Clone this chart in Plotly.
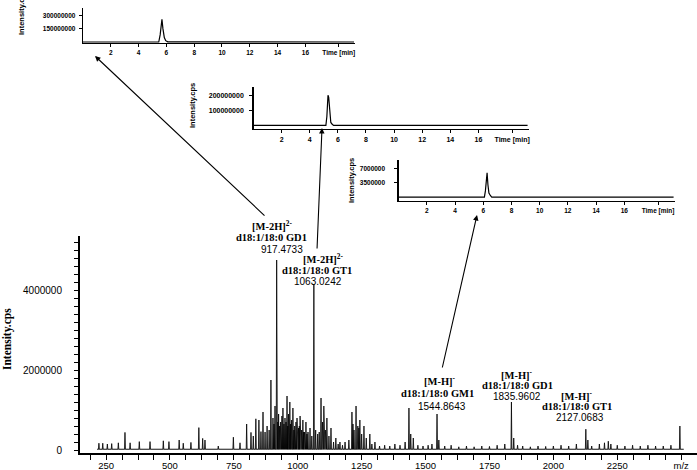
import plotly.graph_objects as go

W, H = 697, 470

# ---------------- DATA ----------------
# Main mass spectrum: unlabeled peaks (m/z, intensity cps)
peak_mz = [222, 237, 255, 272, 298, 324, 344, 380, 422, 474, 496, 536, 552, 582, 613, 628, 637, 689,
           748, 774, 800, 817, 826, 836, 848, 856, 864, 872, 880, 888, 895, 903, 907, 911,
           922, 925, 929, 933, 938, 942, 946, 950, 954, 958, 961, 964, 969, 972, 976, 981, 985, 988,
           993, 997, 1003, 1006, 1009, 1015, 1020, 1023, 1026,
           1032, 1036, 1040, 1048, 1055, 1070, 1078, 1084, 1091, 1097, 1102, 1108, 1114, 1122, 1130, 1140,
           1149, 1158, 1165, 1175, 1185, 1200, 1212, 1216, 1220, 1228, 1235, 1239, 1243, 1250, 1259, 1268,
           1282, 1290, 1302, 1320, 1340, 1360, 1380, 1400, 1420, 1435, 1442, 1452, 1470, 1490,
           1510, 1525, 1552, 1575, 1600, 1630, 1660, 1690, 1720, 1750, 1780, 1810, 1845, 1860,
           1880, 1910, 1940, 1970, 2000, 2030, 2060, 2090, 2135, 2150, 2180, 2200, 2215, 2225,
           2250, 2280, 2310, 2340, 2370, 2400, 2430, 2460, 2495]
peak_int = [170000, 170000, 150000, 160000, 180000, 440000, 180000, 210000, 210000, 230000, 210000,
            250000, 170000, 190000, 560000, 290000, 250000, 100000,
            320000, 180000, 650000, 440000, 350000, 780000, 750000, 460000, 950000, 450000, 600000,
            500000, 1750000, 800000, 650000, 1100000,
            700000, 900000, 600000, 700000, 850000, 1050000, 650000, 800000, 700000, 1350000, 600000,
            900000, 1200000, 650000, 750000, 1050000, 500000, 600000,
            700000, 800000, 550000, 600000, 850000, 500000, 750000, 450000, 450000,
            700000, 400000, 450000, 550000, 350000, 500000, 400000, 450000, 1300000, 700000,
            1100000, 500000, 800000, 350000, 550000, 200000,
            300000, 150000, 200000, 120000, 200000, 250000, 950000, 650000, 500000, 1100000, 600000,
            550000, 750000, 400000, 600000, 300000,
            400000, 150000, 200000, 100000, 120000, 100000, 150000, 120000, 200000, 1050000,
            400000, 300000, 120000, 100000,
            120000, 150000, 250000, 100000, 120000, 80000, 100000, 80000, 100000, 90000, 120000,
            150000, 300000, 120000,
            100000, 80000, 100000, 90000, 100000, 120000, 100000, 150000, 250000, 100000, 150000,
            180000, 220000, 150000,
            120000, 100000, 120000, 100000, 120000, 100000, 100000, 120000, 600000]

# Annotated peaks
annot_mz = [917.4733, 1063.0242, 1544.8643, 1835.9602, 2127.0683]
annot_int = [4750000, 4150000, 900000, 1200000, 520000]
annot_ion = ["[M-2H]<sup>2-</sup>", "[M-2H]<sup>2-</sup>", "[M-H]<sup>-</sup>",
             "[M-H]<sup>-</sup>", "[M-H]<sup>-</sup>"]
annot_name = ["d18:1/18:0 GD1", "d18:1/18:0 GT1", "d18:1/18:0 GM1",
              "d18:1/18:0 GD1", "d18:1/18:0 GT1"]
annot_value = ["917.4733", "1063.0242", "1544.8643", "1835.9602", "2127.0683"]

baseline_level = 20000

x_tickvals = [250, 500, 750, 1000, 1250, 1500, 1750, 2000, 2250, 2500]
x_ticktext = ["250", "500", "750", "1000", "1250", "1500", "1750", "2000", "2250", "m/z"]
y_tickvals = [0, 2000000, 4000000]
y_ticktext = ["0", "2000000", "4000000"]

# Extracted ion chromatograms (time min, intensity cps)
xic1_t = [0, 5.45, 5.55, 5.62, 5.68, 5.75, 5.85, 5.95, 6.1, 19.5]
xic1_i = [0, 0, 80e6, 230e6, 255e6, 150e6, 50e6, 15e6, 2e6, 0]
xic2_t = [0, 5.15, 5.22, 5.3, 5.35, 5.42, 5.5, 5.6, 5.7, 19.5]
xic2_i = [0, 0, 60e6, 205e6, 190e6, 80e6, 20e6, 8e6, 0, 0]
xic3_t = [0, 6.08, 6.15, 6.22, 6.27, 6.33, 6.4, 6.5, 6.6, 19.5]
xic3_i = [0, 0, 1.5e6, 5.6e6, 5.9e6, 3.0e6, 1.0e6, 0.4e6, 0, 0]

time_tickvals = [2, 4, 6, 8, 10, 12, 14, 16, 18.4]
time_ticktext = ["2", "4", "6", "8", "10", "12", "14", "16", "Time [min]"]
xic1_yticks = [150e6, 300e6]
xic1_ytext = ["150000000", "300000000"]
xic2_yticks = [100e6, 200e6]
xic2_ytext = ["100000000", "200000000"]
xic3_yticks = [3.5e6, 7e6]
xic3_ytext = ["3500000", "7000000"]

# ---------------- helpers ----------------
def px(x):
    return x / W

def py(y):
    return 1 - y / H

# build stick-profile spectrum from the peak lists
halfw = 1.8
all_peaks = sorted(list(zip(peak_mz, peak_int)) + list(zip(annot_mz, annot_int)))
sx, sy = [215], [baseline_level]
for m, i in all_peaks:
    sx += [m - halfw, m, m + halfw]
    sy += [baseline_level, i, baseline_level]
sx.append(2510)
sy.append(baseline_level)

fig = go.Figure()
fig.add_trace(go.Scatter(x=sx, y=sy, mode="lines", line=dict(color="black", width=0.8),
                         fill="tozeroy", fillcolor="rgba(70,70,70,0.55)",
                         xaxis="x", yaxis="y", showlegend=False, hoverinfo="skip"))
for t, i, n in [(xic1_t, xic1_i, 2), (xic2_t, xic2_i, 3), (xic3_t, xic3_i, 4)]:
    fig.add_trace(go.Scatter(x=t, y=i, mode="lines", line=dict(color="black", width=1.2),
                             xaxis=f"x{n}", yaxis=f"y{n}", showlegend=False, hoverinfo="skip"))

sans = "Liberation Sans, Arial, sans-serif"
serif = "Liberation Serif, Times New Roman, serif"

main_x = dict(domain=[px(80), 1.0], range=[148, 2562], anchor="y", automargin=False,
              showline=True, linecolor="black", linewidth=2, showgrid=False, zeroline=False,
              tickmode="array", tickvals=x_tickvals, ticktext=x_ticktext,
              ticks="outside", ticklen=5, tickcolor="black", tickwidth=1,
              minor=dict(tickmode="linear", tick0=0, dtick=62.5, ticks="outside", ticklen=5,
                         tickcolor="black", tickwidth=1),
              ticklabelstandoff=-2,
              tickfont=dict(family=sans, size=9.5, color="black"))
main_y = dict(domain=[py(453), py(236)], range=[-75000, 5350000], anchor="x", automargin=False,
              showline=True, linecolor="black", linewidth=2, showgrid=False, zeroline=False,
              tickmode="array", tickvals=y_tickvals, ticktext=y_ticktext,
              ticks="outside", ticklen=4, tickcolor="black", tickwidth=1,
              minor=dict(tickmode="linear", tick0=0, dtick=200000, ticks="outside", ticklen=4,
                         tickcolor="black", tickwidth=1),
              ticklabelstandoff=10,
              tickfont=dict(family=sans, size=10, color="black"))


def inset_axes(xd, yd, xr, yr, yt, ytt, fs, standoff):
    xa = dict(domain=[px(xd[0]), px(xd[1])], range=xr, showline=True, linecolor="black",
              linewidth=1.3, showgrid=False, zeroline=False, tickmode="array", automargin=False,
              tickvals=time_tickvals, ticktext=time_ticktext, ticks="outside", ticklen=3,
              tickcolor="black", tickwidth=1,
              tickfont=dict(family=sans, size=fs, color="black", weight="bold"))
    ya = dict(domain=[py(yd[1]), py(yd[0])], range=yr, showline=True, linecolor="black",
              linewidth=1.3, showgrid=False, zeroline=False, tickmode="array", automargin=False,
              tickvals=yt, ticktext=ytt, ticks="outside", ticklen=3, tickcolor="black",
              tickwidth=1, ticklabelstandoff=standoff,
              tickfont=dict(family=sans, size=fs, color="black", weight="bold"))
    return xa, ya

x2, y2 = inset_axes((83, 355), (8, 43), [0, 19.57], [-11.3e6, 383e6], xic1_yticks, xic1_ytext, 6.5, 2)
x3, y3 = inset_axes((253.5, 529), (87, 129), [0, 19.6], [-24.5e6, 261e6], xic2_yticks, xic2_ytext, 7, 4)
x4, y4 = inset_axes((398.7, 675), (160, 201), [0, 19.6], [-0.95e6, 9.02e6], xic3_yticks, xic3_ytext, 6.5, 8)
x2["anchor"], y2["anchor"] = "y2", "x2"
x3["anchor"], y3["anchor"] = "y3", "x3"
x4["anchor"], y4["anchor"] = "y4", "x4"

annotations = []

def text_ann(cx, cy, text, font, angle=0):
    return dict(x=px(cx), y=py(cy), xref="paper", yref="paper", text=text, textangle=angle,
                showarrow=False, xanchor="center", yanchor="middle", font=font,
                borderpad=0)

# axis titles
annotations.append(text_ann(7, 339, "<b>Intensity.cps</b>",
                            dict(family=serif, size=11.5, color="black"), -90))
for (cx, cy) in [(22, 13), (192, 106), (352, 181)]:
    annotations.append(text_ann(cx, cy, "<b>Intensity.cps</b>",
                                dict(family=sans, size=7.5, color="black"), -90))

# peak labels (pixel positions of ion / name / value lines)
label_pos = [
    [(272, 225), (271, 237), (282, 249)],
    [(323, 258), (317, 270), (318, 281)],
    [(440, 380), (437, 393), (442, 406)],
    [(517, 374), (517, 385), (517, 396)],
    [(577, 395), (577, 406), (580, 417)],
]
lab_font = dict(family=serif, size=10.5, color="black")
num_font = dict(family=sans, size=10, color="black")
for k in range(len(annot_mz)):
    (ix, iy), (nx, ny), (vx, vy) = label_pos[k]
    annotations.append(text_ann(ix, iy, "<b>" + annot_ion[k] + "</b>", lab_font))
    annotations.append(text_ann(nx, ny, "<b>" + annot_name[k] + "</b>", lab_font))
    annotations.append(text_ann(vx, vy, annot_value[k], num_font))

# arrows (tip, tail) in pixels
arrows = [((95, 56), (266, 217)), ((322, 128), (317, 250)), ((477, 215), (442, 369))]
for (tx, ty), (sx0, sy0) in arrows:
    annotations.append(dict(x=px(tx), y=py(ty), xref="paper", yref="paper", text="",
                            showarrow=True, arrowhead=2, arrowsize=1, arrowwidth=1.1,
                            arrowcolor="black", ax=sx0 - tx, ay=sy0 - ty,
                            axref="pixel", ayref="pixel"))

fig.update_layout(
    width=W, height=H, autosize=False,
    margin=dict(l=0, r=0, t=0, b=0, pad=0, autoexpand=False),
    paper_bgcolor="white", plot_bgcolor="rgba(0,0,0,0)",
    xaxis=main_x, yaxis=main_y,
    xaxis2=x2, yaxis2=y2, xaxis3=x3, yaxis3=y3, xaxis4=x4, yaxis4=y4,
    annotations=annotations, showlegend=False,
)

fig.write_html("out.html", config={"displayModeBar": False, "staticPlot": True},
               post_script="document.body.style.margin='0px';document.body.style.padding='0px';")
